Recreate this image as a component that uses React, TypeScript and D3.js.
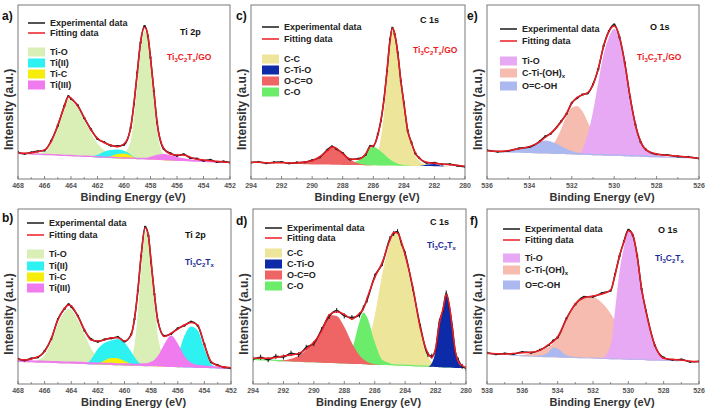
import React from 'react';
import * as d3 from 'd3';

// ---------- Ti 2p (panels a, b) ----------
const TI_E = [468, 467.5, 467, 466.5, 466, 465.5, 465, 464.5, 464.2, 464, 463.5, 463, 462.5, 462, 461.5, 461, 460.5, 460, 459.5, 459.25, 459, 458.75, 458.45, 458.2, 458, 457.75, 457.5, 457, 456.5, 456, 455.5, 455, 454.5, 454, 453.5, 453, 452.5, 452];
const TI_TICKS = [468, 466, 464, 462, 460, 458, 456, 454, 452];

const aExp = [15.4, 14.5, 15.3, 15.9, 16.4, 21.9, 30.6, 42.1, 47.6, 46.1, 42.4, 35.0, 28.6, 23.0, 21.2, 19.2, 18.9, 19.7, 29.5, 43.0, 61.2, 78.4, 87.9, 82.3, 69.8, 50.7, 32.4, 17.2, 14.8, 13.4, 14.2, 12.1, 11.7, 10.5, 11.0, 9.8, 10.1, 9.4];
const aFit = [15.1, 14.8, 15.1, 15.7, 16.7, 21.5, 31.0, 41.6, 47.3, 46.5, 42.0, 35.4, 28.2, 23.4, 20.9, 19.5, 18.6, 20.1, 29.1, 43.5, 60.7, 78.9, 87.2, 82.8, 69.3, 51.2, 32.0, 17.6, 14.4, 13.8, 13.8, 12.5, 11.3, 10.9, 10.5, 10.2, 9.8, 9.6];
const aBase = [14.4, 14.2, 14.1, 13.9, 13.7, 13.6, 13.4, 13.2, 13.1, 13.1, 12.9, 12.7, 12.6, 12.4, 12.2, 12.1, 11.9, 11.7, 11.6, 11.5, 11.4, 11.3, 11.2, 11.1, 11.1, 11.0, 10.9, 10.8, 10.6, 10.4, 10.3, 10.1, 9.9, 9.8, 9.6, 9.4, 9.3, 9.1];
const aTiO = [0.4, 0.5, 0.6, 1.0, 1.8, 6.5, 16, 27, 33, 32, 28, 21, 14, 8, 4.5, 3, 2.5, 3.5, 10, 24, 42, 62, 74, 69, 56, 36, 17, 3, 0.8, 0.3, 0, 0, 0, 0, 0, 0, 0, 0];
const aTiII = [0, 0, 0, 0, 0, 0, 0, 0, 0, 0, 0, 0, 0.3, 1.5, 3.5, 4.5, 5, 4.5, 2.5, 1.2, 0.5, 0.2, 0, 0, 0, 0, 0, 0, 0, 0, 0, 0, 0, 0, 0, 0, 0, 0];
const aTiC = [0, 0, 0, 0, 0, 0, 0, 0, 0, 0, 0, 0, 0, 0, 0, 1, 2.5, 3, 2, 1, 0.4, 0, 0, 0, 0, 0.5, 1.2, 2, 1.5, 0.6, 0.2, 0, 0, 0, 0, 0, 0, 0];
const aTiIII = [0.8, 0.8, 0.8, 0.8, 0.8, 0.8, 0.8, 0.8, 0.8, 0.8, 0.8, 0.8, 0.8, 0.8, 0.8, 0.8, 0.8, 0.8, 0.8, 0.8, 0.8, 0.9, 1.0, 1.3, 1.7, 2.3, 3, 3.5, 3, 2.2, 1.6, 1.2, 1.0, 0.9, 0.8, 0.7, 0.6, 0.5];

const bExp = [14.4, 13.5, 14.6, 15.3, 18.9, 25.7, 37.1, 43.0, 45.6, 44.2, 38.9, 30.5, 25.6, 24.2, 25.5, 26.1, 26.9, 24.3, 28.4, 37.0, 53.3, 73.2, 89.8, 84.7, 69.5, 51.3, 36.2, 27.5, 28.6, 31.8, 33.4, 35.6, 33.3, 22.7, 12.5, 10.8, 9.5, 9.0];
const bFit = [14.1, 13.7, 14.3, 15.6, 18.5, 26.1, 36.6, 43.3, 45.1, 44.6, 38.5, 30.9, 25.1, 24.6, 25.1, 26.5, 26.5, 24.6, 28.0, 37.5, 52.8, 73.7, 89.3, 84.2, 69.9, 50.9, 36.6, 27.1, 29.0, 31.4, 33.7, 35.2, 33.7, 22.3, 12.8, 10.5, 9.7, 9.3];
const bBase = [12.6, 12.5, 12.4, 12.2, 12.1, 12.0, 11.9, 11.7, 11.7, 11.6, 11.5, 11.4, 11.2, 11.1, 11.0, 10.9, 10.7, 10.6, 10.5, 10.4, 10.4, 10.3, 10.2, 10.2, 10.1, 10.1, 10.0, 9.9, 9.7, 9.6, 9.5, 9.4, 9.2, 9.1, 9.0, 8.9, 8.7, 8.6];
const bTiO = [0.3, 0.4, 0.6, 1.5, 4.5, 12, 22.5, 29.5, 31.5, 31, 25, 17, 9, 4, 1.5, 0.8, 0.6, 1, 4, 12, 30, 55, 77, 72, 57, 36, 18, 5, 1.2, 0.3, 0, 0, 0, 0, 0, 0, 0, 0];
const bTiII = [0, 0, 0, 0, 0, 0, 0, 0, 0, 0, 0, 0, 3, 9, 12.5, 14, 15, 13, 8, 5, 2.5, 1, 0.3, 0, 0, 0, 0, 0, 1.5, 7, 18, 23.5, 21.5, 11, 2.5, 0.5, 0, 0];
const bTiC = [0, 0, 0, 0, 0, 0, 0, 0, 0, 0, 0, 0, 0, 0.5, 2.5, 4, 4, 2.5, 1, 0.5, 0.2, 0, 0, 0, 0, 0.3, 0.8, 1, 0.8, 0.3, 0, 0, 0, 0, 0, 0, 0, 0];
const bTiIII = [1.2, 1.2, 1.2, 1.2, 1.2, 1.2, 1.2, 1.2, 1.2, 1.2, 1.2, 1.2, 1.2, 1.2, 1.2, 1.2, 1.2, 1.2, 1.2, 1.2, 1.2, 1.4, 1.6, 2, 2.6, 3.8, 6, 13, 18, 13.5, 6.5, 2.8, 1.8, 1.5, 1.3, 1.1, 0.9, 0.7];

// ---------- C 1s (panels c, d) ----------
const C_TICKS = [294, 292, 290, 288, 286, 284, 282, 280];
const C_E = [294, 293.5, 293, 292.5, 292, 291.5, 291, 290.5, 290, 289.5, 289, 288.7, 288.4, 288, 287.5, 287, 286.5, 286.2, 286, 285.7, 285.5, 285.3, 285.1, 284.9, 284.75, 284.6, 284.4, 284.2, 284, 283.75, 283.5, 283.25, 283, 282.5, 282, 281.5, 281, 280.5, 280];
const cExp = [9.4, 9.8, 9.1, 9.6, 9.7, 9.0, 9.5, 9.6, 10.8, 12.5, 16.8, 18.7, 17.2, 14.9, 11.2, 11.6, 14.0, 19.0, 18.8, 25.8, 33.5, 45.9, 62.1, 80.4, 86.9, 83.2, 72.6, 56.5, 43.9, 27.8, 20.9, 14.7, 12.2, 9.3, 9.3, 8.4, 8.5, 7.6, 7.1];
const cFit = [9.6, 9.6, 9.4, 9.4, 9.4, 9.2, 9.2, 9.8, 10.5, 12.8, 16.3, 18.4, 17.6, 14.4, 11.5, 11.3, 14.4, 18.6, 19.1, 25.3, 33.9, 45.4, 62.6, 79.9, 86.6, 83.7, 72.2, 56.9, 43.5, 28.2, 20.5, 15.1, 11.9, 9.6, 9.0, 8.6, 8.2, 7.9, 7.3];
const cBase = [9.0, 8.9, 8.9, 8.8, 8.7, 8.6, 8.6, 8.5, 8.4, 8.4, 8.3, 8.2, 8.2, 8.1, 8.1, 8.0, 7.9, 7.9, 7.9, 7.8, 7.8, 7.8, 7.7, 7.7, 7.7, 7.7, 7.6, 7.6, 7.6, 7.5, 7.5, 7.5, 7.4, 7.4, 7.3, 7.2, 7.1, 7.1, 7.0];
const cCC = [0, 0, 0, 0, 0, 0, 0, 0, 0, 0, 0, 0, 0, 0, 0, 0.2, 0.8, 1.8, 3, 8, 16, 30, 50, 70, 78, 75, 63, 48, 35, 20, 11.5, 6, 3, 0.8, 0.2, 0, 0, 0, 0];
const cCTiO = [0, 0, 0, 0, 0, 0, 0, 0, 0, 0, 0, 0, 0, 0, 0, 0, 0, 0, 0, 0, 0, 0, 0, 0, 0, 0, 0, 0, 0, 0, 0, 0, 0, 0.9, 1.3, 0.3, 0, 0, 0];
const cOCO = [0, 0, 0, 0, 0, 0, 0.3, 1, 2, 4.2, 7.8, 9.8, 9, 6, 3, 1, 0.3, 0.1, 0, 0, 0, 0, 0, 0, 0, 0, 0, 0, 0, 0, 0, 0, 0, 0, 0, 0, 0, 0, 0];
const cCO = [0, 0, 0, 0, 0, 0, 0, 0, 0, 0, 0, 0, 0, 0.3, 1.2, 2.5, 6.5, 10, 10.5, 9.5, 8, 6.5, 5, 3.5, 2.6, 1.9, 1.2, 0.7, 0.4, 0.2, 0, 0, 0, 0, 0, 0, 0, 0, 0];

const D_E = [294, 293.5, 293, 292.5, 292, 291.5, 291, 290.5, 290, 289.5, 289, 288.5, 288, 287.5, 287, 286.75, 286.5, 286, 285.5, 285, 284.75, 284.5, 284.25, 284, 283.5, 283, 282.5, 282.25, 282, 281.75, 281.5, 281.3, 281.1, 280.9, 280.7, 280.5, 280.25, 280];
const dExp = [14.2, 15.3, 13.9, 15.8, 15.4, 17.6, 16.8, 21.0, 23.1, 31.0, 38.6, 42.0, 38.9, 38.0, 39.4, 43.5, 48.0, 61.6, 68.8, 83.1, 86.0, 87.1, 80.5, 74.6, 54.6, 32.9, 16.8, 15.9, 19.6, 35.6, 42.4, 52.0, 44.4, 32.6, 18.0, 13.6, 10.1, 9.0];
const dFit = [14.7, 14.7, 14.7, 15.1, 16.0, 16.6, 17.5, 20.0, 23.8, 29.9, 39.4, 41.3, 39.8, 37.1, 40.4, 42.9, 49.0, 60.8, 69.5, 82.3, 86.7, 86.3, 81.3, 73.7, 55.6, 31.8, 17.5, 15.2, 20.4, 34.7, 43.3, 51.3, 45.2, 31.8, 18.5, 12.8, 10.5, 9.3];
const dBase = [13.7, 13.5, 13.4, 13.2, 13.0, 12.9, 12.7, 12.5, 12.4, 12.2, 12.0, 11.9, 11.7, 11.5, 11.4, 11.3, 11.2, 11.0, 10.8, 10.7, 10.6, 10.5, 10.4, 10.3, 10.2, 10.0, 9.8, 9.8, 9.7, 9.6, 9.5, 9.4, 9.4, 9.3, 9.2, 9.2, 9.1, 9.0];
const dCC = [0, 0, 0, 0, 0, 0, 0, 0, 0, 0, 0, 0, 0, 0, 2, 5, 10, 28, 52, 70, 76, 75, 70, 62, 42, 21, 6, 2.5, 1, 0.3, 0, 0, 0, 0, 0, 0, 0, 0];
const dCTiO = [0, 0, 0, 0, 0, 0, 0, 0, 0, 0, 0, 0, 0, 0, 0, 0, 0, 0, 0, 0, 0, 0, 0, 0, 0, 0, 0, 2, 9, 24, 33, 41, 35, 22, 9, 3, 1, 0.3];
const dOCO = [0, 0, 0, 0, 0.5, 1.5, 3.5, 7, 12, 17, 27.5, 27, 21, 12, 5, 2.8, 1.5, 0.3, 0, 0, 0, 0, 0, 0, 0, 0, 0, 0, 0, 0, 0, 0, 0, 0, 0, 0, 0, 0];
const dCO = [0.7, 0.7, 0.7, 0.7, 0.7, 0.7, 0.7, 0.7, 0.7, 0.7, 0.7, 0.7, 1, 8, 24, 29.5, 27, 13, 3, 1.2, 0.7, 0.7, 0.7, 0.7, 0.7, 0.7, 0.7, 0.7, 0.7, 0.7, 0.7, 0.7, 0.7, 0.7, 0.7, 0.7, 0.7, 0.7];

// ---------- O 1s (panels e, f) ----------
const E_TICKS = [536, 534, 532, 530, 528, 526];
const E_E = [536, 535.5, 535, 534.5, 534, 533.5, 533.25, 533, 532.5, 532.25, 532, 531.75, 531.5, 531.25, 531, 530.75, 530.5, 530.25, 530, 529.75, 529.5, 529.25, 529, 528.75, 528.5, 528, 527.5, 527, 526.5, 526];
const eExp = [16.5, 15.7, 16.1, 17.6, 18.4, 21.8, 24.5, 26.0, 33.2, 37.4, 43.8, 46.5, 48.5, 49.3, 54.4, 63.2, 76.5, 85.0, 88.8, 81.4, 66.8, 47.0, 31.3, 21.2, 16.9, 14.2, 13.8, 13.0, 12.7, 11.8];
const eFit = [16.3, 15.9, 16.3, 17.4, 18.6, 21.5, 24.0, 26.2, 32.9, 37.7, 43.5, 46.9, 48.3, 49.6, 54.0, 63.6, 76.1, 84.7, 87.9, 81.8, 66.5, 47.3, 31.0, 21.5, 16.7, 14.4, 13.6, 13.2, 12.5, 11.9];
const eBase = [15.7, 15.5, 15.3, 15.1, 14.9, 14.7, 14.6, 14.5, 14.3, 14.2, 14.1, 14.0, 13.9, 13.8, 13.7, 13.6, 13.5, 13.4, 13.3, 13.2, 13.1, 13.0, 12.9, 12.8, 12.7, 12.5, 12.3, 12.1, 11.9, 11.7];
const eTiO = [0, 0, 0, 0, 0, 0, 0, 0, 0, 0, 0, 0, 3, 12, 25, 42, 58, 68, 73, 67, 52, 34, 18, 8.5, 4, 1.2, 0.3, 0, 0, 0];
const eCTiOH = [0, 0, 0, 0, 0, 0.5, 1.5, 3.5, 14.5, 22, 27, 28, 25, 19, 13, 8, 4.5, 2.5, 1.3, 0.6, 0.3, 0, 0, 0, 0, 0, 0, 0, 0, 0];
const eOCOH = [0, 0.3, 1, 2.3, 4, 6.5, 7.5, 7, 4.5, 3, 2, 1.2, 0.8, 0.8, 0.8, 0.8, 0.8, 0.8, 0.8, 0.8, 0.8, 0.8, 0.8, 0.8, 0.8, 0.7, 0.7, 0.6, 0.4, 0.3];

const F_TICKS = [538, 536, 534, 532, 530, 528, 526];
const F_E = [538, 537.5, 537, 536.5, 536, 535.5, 535, 534.5, 534.25, 534, 533.5, 533, 532.5, 532, 531.5, 531, 530.75, 530.5, 530.25, 530, 529.75, 529.5, 529.25, 529, 528.5, 528, 527.5, 527, 526.5, 526];
const fExp = [17.8, 17.0, 17.4, 17.2, 18.3, 17.9, 19.5, 22.3, 24.8, 26.6, 37.5, 45.5, 49.8, 49.9, 51.9, 53.4, 62.8, 73.0, 81.5, 88.1, 85.0, 73.3, 54.2, 41.8, 22.0, 15.1, 13.8, 14.0, 12.7, 12.9];
const fFit = [17.5, 17.3, 17.1, 17.5, 17.9, 18.1, 19.2, 22.7, 24.2, 27.0, 37.1, 45.9, 49.3, 50.3, 51.4, 53.7, 62.3, 73.3, 81.0, 87.6, 85.5, 72.8, 54.7, 41.3, 22.3, 14.7, 14.1, 13.7, 13.0, 12.8];
const fBase = [16.5, 16.3, 16.2, 16.0, 15.9, 15.7, 15.5, 15.3, 15.3, 15.2, 15.0, 14.9, 14.7, 14.6, 14.4, 14.2, 14.2, 14.1, 14.0, 13.9, 13.8, 13.7, 13.7, 13.6, 13.4, 13.3, 13.1, 12.9, 12.8, 12.6];
const fTiO = [0, 0, 0, 0, 0, 0, 0, 0, 0, 0, 0, 0, 0, 0, 0.5, 8, 28, 50, 64, 73.5, 71, 58, 40, 26, 8, 1.5, 0.3, 0, 0, 0];
const fCTiOH = [0, 0, 0, 0, 0.5, 2, 3.5, 6, 8, 11, 21, 30, 34.5, 35, 32, 26, 22, 18.5, 15, 12, 9.5, 7, 5, 3.5, 1.5, 0.5, 0, 0, 0, 0];
const fOCOH = [0, 0, 0, 0.4, 0.5, 0.5, 0.8, 3, 5.5, 5, 1.5, 0.6, 0.5, 0.5, 0.5, 0.5, 0.5, 0.5, 0.5, 0.5, 0.5, 0.5, 0.5, 0.5, 0.5, 0.4, 0.3, 0, 0, 0];

// ---------- labels ----------
const TI_NAMES = ['Ti-O', 'Ti(II)', 'Ti-C', 'Ti(III)'];
const C_NAMES = ['C-C', 'C-Ti-O', 'O-C=O', 'C-O'];
const O_NAMES = ['Ti-O', 'C-Ti-(OH)', 'O=C-OH'];

const FONT = "'Liberation Sans', Arial, Helvetica, sans-serif";
const RED = '#ec1c24';
const COL = {
  tiO: '#d9efb6', tiII: '#2ef1f1', tiC: '#f6ee0a', tiIII: '#ef7bef',
  cc: '#ede69a', ctio: '#0d2aa8', oco: '#ef6565', co: '#6bed6b',
  oTiO: '#e8a9f4', ctioh: '#f6bcb0', ocoh: '#acb8f0',
};

type Comp = { name: string; sub?: string; values: number[]; color: string; ly: number };
type Cfg = {
  letter: string; lx: number; ly: number;
  x: number; y: number; w: number; h: number;
  domain: [number, number]; ticks: number[];
  energy: number[]; exp: number[]; fit: number[]; base: number[];
  comps: Comp[]; drawOrder: number[]; spikes: boolean;
  legX: number; legExpY: number; legFitY: number;
  core: string; coreX: number; coreY: number;
  sampleX: number; sampleY: number; sampleColor: string; go: boolean;
};

const panels: Cfg[] = [
  {
    letter: 'a)', lx: 2, ly: 20, x: 18, y: 5, w: 212, h: 174, domain: [468, 452], ticks: TI_TICKS,
    energy: TI_E, exp: aExp, fit: aFit, base: aBase,
    comps: [
      { name: TI_NAMES[0], values: aTiO, color: COL.tiO, ly: 52 },
      { name: TI_NAMES[1], values: aTiII, color: COL.tiII, ly: 63 },
      { name: TI_NAMES[2], values: aTiC, color: COL.tiC, ly: 74 },
      { name: TI_NAMES[3], values: aTiIII, color: COL.tiIII, ly: 85 },
    ], drawOrder: [0, 1, 2, 3], spikes: false,
    legX: 28, legExpY: 23, legFitY: 33,
    core: 'Ti 2p', coreX: 180, coreY: 35, sampleX: 167, sampleY: 60, sampleColor: RED, go: true,
  },
  {
    letter: 'b)', lx: 2, ly: 222, x: 18, y: 209, w: 213, h: 175, domain: [468, 452], ticks: TI_TICKS,
    energy: TI_E, exp: bExp, fit: bFit, base: bBase,
    comps: [
      { name: TI_NAMES[0], values: bTiO, color: COL.tiO, ly: 254 },
      { name: TI_NAMES[1], values: bTiII, color: COL.tiII, ly: 266 },
      { name: TI_NAMES[2], values: bTiC, color: COL.tiC, ly: 277 },
      { name: TI_NAMES[3], values: bTiIII, color: COL.tiIII, ly: 288 },
    ], drawOrder: [0, 1, 2, 3], spikes: false,
    legX: 27, legExpY: 223, legFitY: 235,
    core: 'Ti 2p', coreX: 185, coreY: 238, sampleX: 185, sampleY: 265, sampleColor: '#1c2b9a', go: false,
  },
  {
    letter: 'c)', lx: 236, ly: 20, x: 251, y: 5, w: 214, h: 174, domain: [294, 280], ticks: C_TICKS,
    energy: C_E, exp: cExp, fit: cFit, base: cBase,
    comps: [
      { name: C_NAMES[0], values: cCC, color: COL.cc, ly: 59 },
      { name: C_NAMES[1], values: cCTiO, color: COL.ctio, ly: 70 },
      { name: C_NAMES[2], values: cOCO, color: COL.oco, ly: 81 },
      { name: C_NAMES[3], values: cCO, color: COL.co, ly: 92 },
    ], drawOrder: [0, 3, 2, 1], spikes: false,
    legX: 262, legExpY: 27, legFitY: 39,
    core: 'C 1s', coreX: 420, coreY: 23, sampleX: 413, sampleY: 53, sampleColor: RED, go: true,
  },
  {
    letter: 'd)', lx: 236, ly: 225, x: 253, y: 209, w: 213, h: 175, domain: [294, 280], ticks: C_TICKS,
    energy: D_E, exp: dExp, fit: dFit, base: dBase,
    comps: [
      { name: C_NAMES[0], values: dCC, color: COL.cc, ly: 253 },
      { name: C_NAMES[1], values: dCTiO, color: COL.ctio, ly: 264 },
      { name: C_NAMES[2], values: dOCO, color: COL.oco, ly: 275 },
      { name: C_NAMES[3], values: dCO, color: COL.co, ly: 286 },
    ], drawOrder: [0, 3, 2, 1], spikes: true,
    legX: 265, legExpY: 228, legFitY: 238,
    core: 'C 1s', coreX: 430, coreY: 225, sampleX: 427, sampleY: 248, sampleColor: '#1c2b9a', go: false,
  },
  {
    letter: 'e)', lx: 467, ly: 20, x: 487, y: 5, w: 212, h: 174, domain: [536, 526], ticks: E_TICKS,
    energy: E_E, exp: eExp, fit: eFit, base: eBase,
    comps: [
      { name: O_NAMES[0], values: eTiO, color: COL.oTiO, ly: 61 },
      { name: O_NAMES[1], sub: 'x', values: eCTiOH, color: COL.ctioh, ly: 73 },
      { name: O_NAMES[2], values: eOCOH, color: COL.ocoh, ly: 86 },
    ], drawOrder: [1, 0, 2], spikes: false,
    legX: 500, legExpY: 29, legFitY: 41,
    core: 'O 1s', coreX: 650, coreY: 30, sampleX: 637, sampleY: 60, sampleColor: RED, go: true,
  },
  {
    letter: 'f)', lx: 470, ly: 225, x: 487, y: 209, w: 212, h: 175, domain: [538, 526], ticks: F_TICKS,
    energy: F_E, exp: fExp, fit: fFit, base: fBase,
    comps: [
      { name: O_NAMES[0], values: fTiO, color: COL.oTiO, ly: 258 },
      { name: O_NAMES[1], sub: 'x', values: fCTiOH, color: COL.ctioh, ly: 270 },
      { name: O_NAMES[2], values: fOCOH, color: COL.ocoh, ly: 285 },
    ], drawOrder: [1, 0, 2], spikes: false,
    legX: 503, legExpY: 229, legFitY: 240,
    core: 'O 1s', coreX: 658, coreY: 233, sampleX: 655, sampleY: 261, sampleColor: '#1c2b9a', go: false,
  },
];

function Formula({ x, y, color, go }: { x: number; y: number; color: string; go: boolean }) {
  return (
    <text x={x} y={y} fill={color} fontSize={8.5} fontWeight="bold" fontFamily={FONT}>
      Ti<tspan fontSize={6} dy={2}>3</tspan>
      <tspan dy={-2}>C</tspan><tspan fontSize={6} dy={2}>2</tspan>
      <tspan dy={-2}>T</tspan><tspan fontSize={6} dy={2}>x</tspan>
      {go ? <tspan dy={-2}>/GO</tspan> : null}
    </text>
  );
}

function Panel({ cfg, id }: { cfg: Cfg; id: number }) {
  const x = d3.scaleLinear().domain(cfg.domain).range([cfg.x, cfg.x + cfg.w]);
  const y = d3.scaleLinear().domain([0, 100]).range([cfg.y + cfg.h, cfg.y]);
  const idx = cfg.energy.map((_, i) => i);
  const area = (vals: number[]) =>
    d3.area<number>()
      .x(i => x(cfg.energy[i]))
      .y0(i => y(cfg.base[i]))
      .y1(i => y(cfg.base[i] + vals[i]))
      .curve(d3.curveMonotoneX)(idx) || '';
  const line = (vals: number[]) =>
    d3.line<number>()
      .x(i => x(cfg.energy[i]))
      .y(i => y(vals[i]))
      .curve(d3.curveMonotoneX)(idx) || '';
  const bottom = cfg.y + cfg.h;
  const minor: number[] = [];
  for (let k = 0; k < cfg.ticks.length - 1; k++) minor.push((cfg.ticks[k] + cfg.ticks[k + 1]) / 2);
  const clipId = `clip${id}`;
  const cx = cfg.x + cfg.w / 2 + 9;
  return (
    <g>
      <defs>
        <clipPath id={clipId}>
          <rect x={cfg.x} y={cfg.y} width={cfg.w} height={cfg.h} />
        </clipPath>
      </defs>
      <g clipPath={`url(#${clipId})`}>
        {cfg.drawOrder.map(k => (
          <path key={k} d={area(cfg.comps[k].values)} fill={cfg.comps[k].color} stroke="none" />
        ))}
        <path d={line(cfg.exp)} fill="none" stroke="#1a1a1a" strokeWidth={1.5} />
        {cfg.energy.map((e, i) => (
          cfg.spikes
            ? <line key={i} x1={x(e)} x2={x(e)} y1={y(cfg.exp[i]) - 2.5} y2={y(cfg.exp[i]) + 2.5} stroke="#1a1a1a" strokeWidth={1} />
            : <rect key={i} x={x(e) - 1} y={y(cfg.exp[i]) - 1} width={2} height={2} fill="#1a1a1a" />
        ))}
        <path d={line(cfg.fit)} fill="none" stroke={RED} strokeWidth={1.5} />
      </g>
      <rect x={cfg.x} y={cfg.y} width={cfg.w} height={cfg.h} fill="none" stroke="#6a6a6a" strokeWidth={0.9} />
      {cfg.ticks.map(t => (
        <g key={t}>
          <line x1={x(t)} x2={x(t)} y1={bottom} y2={bottom - 3} stroke="#6a6a6a" strokeWidth={0.8} />
          <text x={x(t)} y={bottom + 8.5} textAnchor="middle" fontSize={7} fontWeight="bold" fill="#555" fontFamily={FONT}>{t}</text>
        </g>
      ))}
      {minor.map(t => (
        <line key={t} x1={x(t)} x2={x(t)} y1={bottom} y2={bottom - 2} stroke="#6a6a6a" strokeWidth={0.7} />
      ))}
      <text x={cx} y={bottom + 22} textAnchor="middle" fontSize={11} fontWeight="bold" fill="#333" fontFamily={FONT}>Binding Energy (eV)</text>
      <text transform={`translate(${cfg.x - 5},${cfg.y + cfg.h * 0.6}) rotate(-90)`} textAnchor="middle" fontSize={12} fontWeight="bold" fill="#333" fontFamily={FONT}>Intensity (a.u.)</text>
      <text x={cfg.lx} y={cfg.ly} fontSize={12} fontWeight="bold" fill="#111" fontFamily={FONT}>{cfg.letter}</text>
      <line x1={cfg.legX} x2={cfg.legX + 17} y1={cfg.legExpY} y2={cfg.legExpY} stroke="#1a1a1a" strokeWidth={1.5} />
      <text x={cfg.legX + 22} y={cfg.legExpY + 3} fontSize={9} fontWeight="bold" fill="#222" fontFamily={FONT}>Experimental data</text>
      <line x1={cfg.legX} x2={cfg.legX + 17} y1={cfg.legFitY} y2={cfg.legFitY} stroke={RED} strokeWidth={1.5} />
      <text x={cfg.legX + 22} y={cfg.legFitY + 3} fontSize={9} fontWeight="bold" fill="#222" fontFamily={FONT}>Fitting data</text>
      {cfg.comps.map((c, k) => (
        <g key={k}>
          <rect x={cfg.legX} y={c.ly - 4.5} width={17} height={9} fill={c.color} />
          <text x={cfg.legX + 22} y={c.ly + 3} fontSize={9} fontWeight="bold" fill="#222" fontFamily={FONT}>
            {c.name}{c.sub ? <tspan fontSize={6} dy={2}>{c.sub}</tspan> : null}
          </text>
        </g>
      ))}
      <text x={cfg.coreX} y={cfg.coreY} fontSize={9} fontWeight="bold" fill="#111" fontFamily={FONT}>{cfg.core}</text>
      <Formula x={cfg.sampleX} y={cfg.sampleY} color={cfg.sampleColor} go={cfg.go} />
    </g>
  );
}

export default function App() {
  return (
    <svg width={709} height={412} style={{ position: 'absolute', left: 0, top: 0, background: '#fff' }}>
      <rect x={0} y={0} width={709} height={412} fill="#fff" />
      {panels.map((p, i) => <Panel key={i} cfg={p} id={i} />)}
    </svg>
  );
}
